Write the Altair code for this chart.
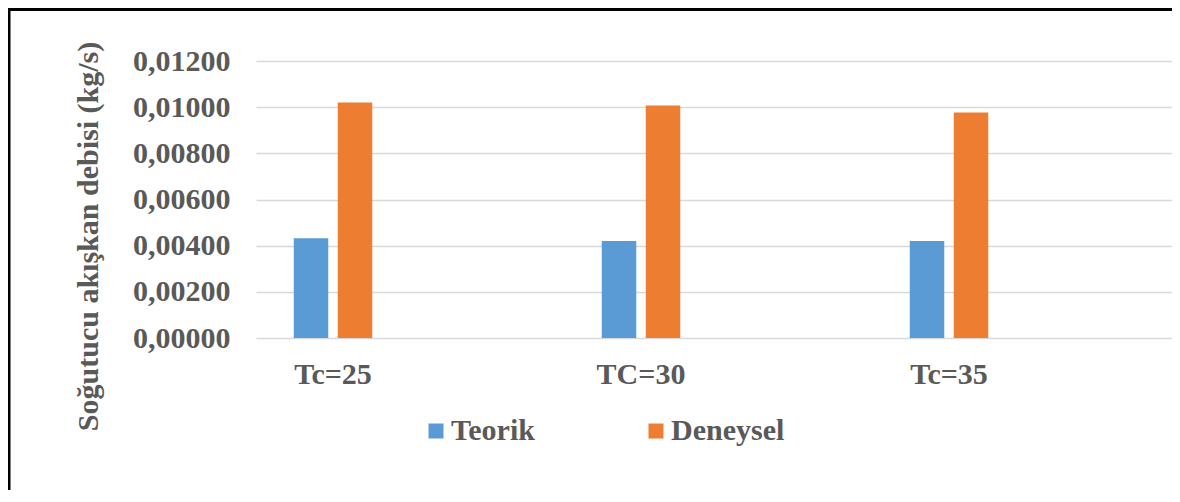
import altair as alt
import pandas as pd

categories = ["Tc=25", "TC=30", "Tc=35"]
series = ["Teorik", "Deneysel"]
teorik = [0.00432, 0.00420, 0.00420]
deneysel = [0.01020, 0.01007, 0.00977]
y_ticks = [0.0, 0.002, 0.004, 0.006, 0.008, 0.010, 0.012]
colors = ["#5B9BD5", "#ED7D31"]

rows = []
for c, t, d in zip(categories, teorik, deneysel):
    rows.append({"cat": c, "series": "Teorik", "value": t})
    rows.append({"cat": c, "series": "Deneysel", "value": d})
df = pd.DataFrame(rows)

FONT = "Liberation Serif"
GREY = "#595959"
FS = 30

bars = alt.Chart(df).mark_bar().encode(
    x=alt.X("cat:N", sort=categories,
            scale=alt.Scale(paddingInner=0.5, paddingOuter=0.237, align=0),
            axis=alt.Axis(title=None, labelAngle=0, ticks=False, domain=False, grid=False,
                          labelFont=FONT, labelFontSize=FS, labelFontWeight="bold",
                          labelColor=GREY, labelPadding=21)),
    xOffset=alt.XOffset("series:N", sort=series,
                        scale=alt.Scale(paddingInner=0.216, paddingOuter=0.858)),
    y=alt.Y("value:Q", scale=alt.Scale(domain=[0, 0.012], nice=False),
            axis=alt.Axis(title="Soğutucu akışkan debisi (kg/s)", values=y_ticks,
                          labelExpr="replace(format(datum.value, '.5f'), '.', ',')",
                          ticks=False, domain=False, grid=True,
                          gridColor="#D9D9D9", gridWidth=1.6,
                          labelFont=FONT, labelFontSize=FS, labelFontWeight="bold",
                          labelColor=GREY, labelPadding=26,
                          titleFont=FONT, titleFontSize=FS, titleFontWeight="bold",
                          titleColor=GREY, titleX=-168, titleY=175,
                          titleAlign="center", titleBaseline="middle", titleAngle=270)),
    color=alt.Color("series:N", sort=series,
                    scale=alt.Scale(domain=series, range=colors),
                    legend=alt.Legend(title=None, orient="none", direction="horizontal",
                                      legendX=165, legendY=355,
                                      symbolType="square", symbolSize=225,
                                      symbolStrokeWidth=0, labelOffset=0,
                                      columnPadding=106,
                                      labelFont=FONT, labelFontSize=FS,
                                      labelFontWeight="bold", labelColor=GREY)),
)

frame_data = alt.Data(values=[{}])
left_border = alt.Chart(frame_data).mark_rule(color="black", strokeWidth=3).encode(
    x=alt.value(-247), y=alt.value(-52), y2=alt.value(440))
top_border = alt.Chart(frame_data).mark_rule(color="black", strokeWidth=3).encode(
    x=alt.value(-248), x2=alt.value(916), y=alt.value(-51.5))

chart = alt.layer(bars, left_border, top_border).properties(
    width=916, height=277,
    autosize=alt.AutoSizeParams(type="none"),
    padding={"left": 248, "top": 53, "right": 0, "bottom": 152},
).configure_view(stroke=None)

chart.save("out.html", embed_options={"renderer": "svg", "actions": False})
